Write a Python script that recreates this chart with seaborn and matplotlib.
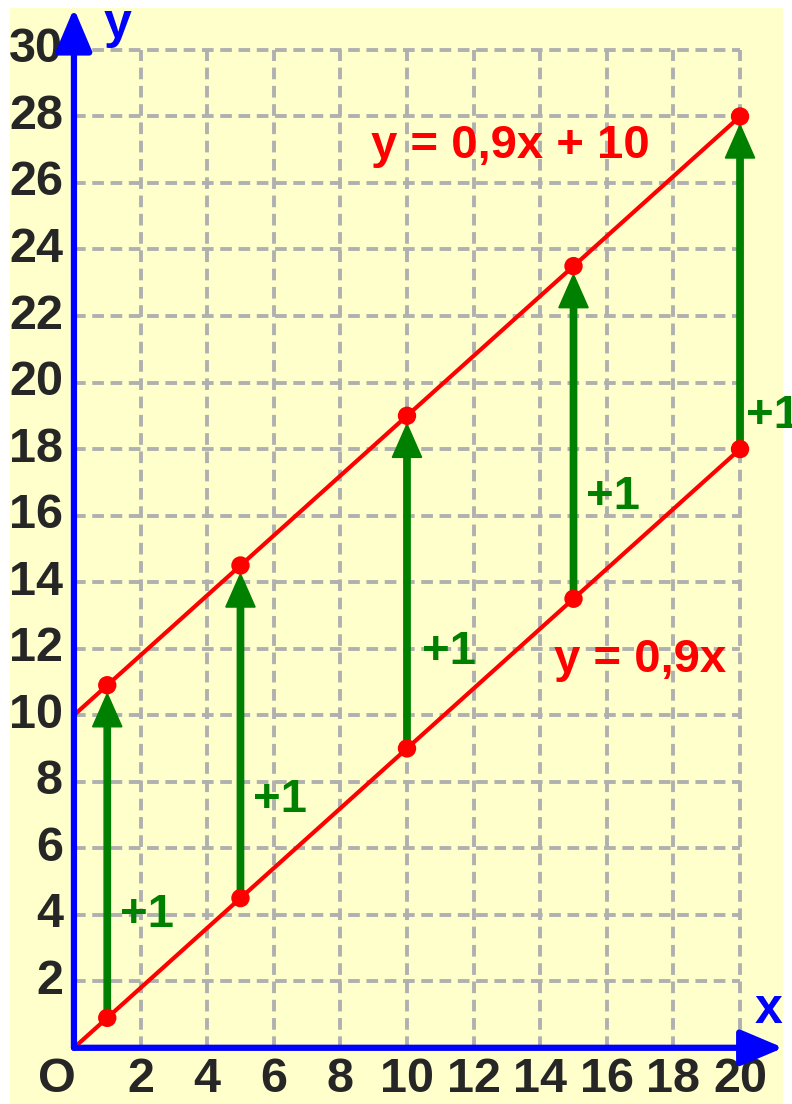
import numpy as np
import pandas as pd
import matplotlib
matplotlib.use("Agg")
import matplotlib.pyplot as plt
import seaborn as sns

sns.set_style("white")
plt.rcParams['font.family'] = ['Liberation Sans', 'DejaVu Sans']

# data
x_pts = [1, 5, 10, 15, 20]
y_low = [0.9, 4.5, 9, 13.5, 18]
y_high = [10.9, 14.5, 19, 23.5, 28]
line_x = [0, 20]
line_low = [0, 18]
line_high = [10, 28]
x_ticks = [2, 4, 6, 8, 10, 12, 14, 16, 18, 20]
y_ticks = [2, 4, 6, 8, 10, 12, 14, 16, 18, 20, 22, 24, 26, 28, 30]
step_label = "+1"
label_pos = [(2.2, 4.0), (6.2, 7.45), (11.25, 11.9), (16.2, 16.55), (21.0, 19.0)]

yellow = "#FFFFCC"
blue = "#0000FF"
red = "#FF0000"
green = "#008000"

fig = plt.figure(figsize=(7.92, 11.04), dpi=100, facecolor="white")
ax = fig.add_axes([10 / 792, 0, 773 / 792, 1096 / 1104])
ax.set_xlim(-1.92, 21.29)
ax.set_ylim(-1.69, 31.26)
ax.axis("off")
ax.add_patch(plt.Rectangle((-1.92, -1.69), 23.21, 32.95, color=yellow, zorder=0))

# dashed grid
ax.hlines(y_ticks, 0, 20, colors="#B0B0B0", linestyles=(0, (3, 1.7)), linewidth=2.8, zorder=1)
ax.vlines(x_ticks, 0, 30, colors="#B0B0B0", linestyles=(0, (3, 1.7)), linewidth=2.8, zorder=1)

# lines
df = pd.DataFrame({"x": line_x * 2, "y": line_low + line_high, "f": ["low"] * 2 + ["high"] * 2})
sns.lineplot(data=df, x="x", y="y", units="f", estimator=None, color=red, linewidth=3, ax=ax, zorder=3)

# arrows
for xp, lo, hi in zip(x_pts, y_low, y_high):
    ax.arrow(xp, lo + 0.2, 0, hi - lo - 0.45, width=0.19, head_width=0.88, head_length=1.0,
             length_includes_head=True, color=green, zorder=4)

pts = pd.DataFrame({"x": x_pts * 2, "y": y_low + y_high})
sns.scatterplot(data=pts, x="x", y="y", color=red, s=175, edgecolor="none", ax=ax, zorder=5)
ax.set_xlabel("")
ax.set_ylabel("")

for (lx, ly) in label_pos:
    ax.text(lx, ly, step_label, color=green, fontsize=34, fontweight="bold", ha="center", va="center", zorder=6)

ax.text(13.1, 27.1, "y = 0,9x + 10", color=red, fontsize=34, fontweight="bold", ha="center", va="center")
ax.text(17.0, 11.65, "y = 0,9x", color=red, fontsize=34, fontweight="bold", ha="center", va="center")

# axes arrows
ax.annotate("", xy=(21.3, 0), xytext=(0, 0),
            arrowprops=dict(arrowstyle="-|>,head_length=1.3,head_width=0.55", color=blue, lw=4.5,
                            shrinkA=0, shrinkB=0, mutation_scale=20), zorder=7)
ax.annotate("", xy=(0, 31.25), xytext=(0, 0),
            arrowprops=dict(arrowstyle="-|>,head_length=1.3,head_width=0.55", color=blue, lw=4.5,
                            shrinkA=0, shrinkB=0, mutation_scale=20), zorder=7)
ax.text(1.3, 30.75, "y", color=blue, fontsize=36, fontweight="bold", ha="center", va="center")
ax.text(20.87, 1.14, "x", color=blue, fontsize=36, fontweight="bold", ha="center", va="center")

for t in x_ticks:
    ax.text(t, -0.96, str(t), fontsize=35, fontweight="bold", ha="center", va="center")
for t in y_ticks:
    ax.text(-0.33, t, str(t), fontsize=35, fontweight="bold", ha="right", va="center")
ax.text(-0.5, -0.96, "O", fontsize=35, fontweight="bold", ha="center", va="center")

fig.savefig("out.png", dpi=100, facecolor="white")
